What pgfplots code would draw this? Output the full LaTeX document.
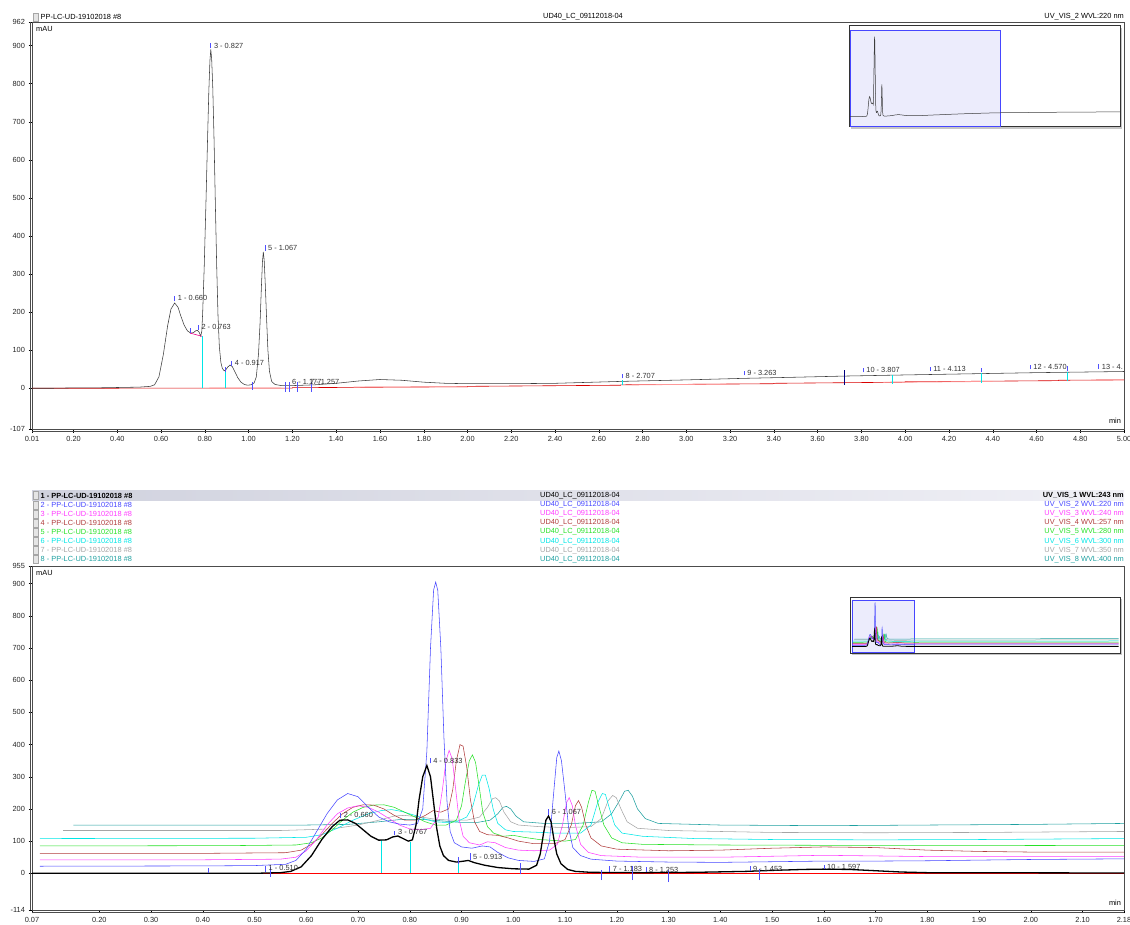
\documentclass[border=0pt]{standalone}
\usepackage{fontspec}
\setmainfont{Liberation Sans}
\usepackage{pgfplots}
\pgfplotsset{compat=1.18}
\usepackage{pgfplotstable}
\definecolor{cA}{RGB}{60,60,60}
\definecolor{c2}{RGB}{70,70,255}
\definecolor{c3}{RGB}{255,60,255}
\definecolor{c4}{RGB}{176,60,60}
\definecolor{c5}{RGB}{40,225,40}
\definecolor{c6}{RGB}{0,230,230}
\definecolor{c7}{RGB}{165,165,165}
\definecolor{c8}{RGB}{30,160,160}
\definecolor{tk}{RGB}{80,80,255}
\definecolor{bandL}{RGB}{208,210,222}
\definecolor{bandR}{RGB}{240,240,246}
\definecolor{boxf}{RGB}{236,236,252}
\newcommand\tf{\fontsize{7.4}{8}\selectfont}

\pgfplotstableread{
t v
0.01 0
0.10 0
0.20 1
0.30 1
0.40 2
0.50 3
0.55 5
0.57 9
0.59 30
0.61 88
0.63 165
0.645 208
0.662 224
0.677 213
0.69 190
0.705 166
0.72 151
0.735 145
0.748 146
0.758 151
0.766 152
0.774 147
0.781 137
0.786 150
0.790 200
0.797 320
0.805 490
0.812 650
0.818 780
0.823 860
0.827 890
0.831 865
0.836 790
0.842 650
0.848 480
0.854 320
0.860 190
0.866 110
0.873 68
0.880 52
0.888 46
0.895 48
0.905 56
0.915 61
0.925 57
0.935 46
0.950 28
0.965 16
0.980 10
0.995 8
1.010 9
1.025 14
1.035 30
1.045 90
1.052 170
1.058 262
1.063 332
1.067 358
1.071 336
1.076 272
1.082 182
1.088 100
1.095 45
1.105 18
1.120 10
1.150 7
1.200 7
1.300 9
1.400 13
1.500 19
1.600 23
1.700 21
1.800 16
1.900 13
2.000 12
2.200 12
2.400 13
2.700 18
3.000 22
3.260 26
3.500 29
3.720 32
4.000 35
4.300 38
4.600 41
5.000 44
6.000 47
7.000 50
8.000 52
8.950 54
}\topdata

\pgfplotstableread{
t v
0.07 0
0.50 0
0.55 2
0.57 6
0.59 20
0.61 55
0.63 105
0.65 145
0.665 165
0.68 166
0.695 155
0.71 135
0.725 115
0.74 103
0.755 104
0.767 113
0.777 116
0.787 108
0.797 100
0.805 104
0.812 150
0.818 230
0.825 300
0.833 335
0.840 300
0.846 220
0.852 140
0.858 85
0.865 55
0.875 40
0.890 35
0.905 38
0.913 40
0.925 33
0.945 25
0.970 18
1.000 14
1.030 13
1.045 25
1.052 60
1.058 120
1.063 165
1.068 178
1.073 160
1.078 110
1.084 60
1.092 30
1.105 12
1.120 6
1.150 3
1.250 2
1.350 3
1.450 6
1.500 9
1.560 12
1.600 13
1.650 12
1.700 8
1.750 4
1.800 2
2.180 1
9.100 1
}\bA

\pgfplotstableread{
t v
0.085 22
0.40 23
0.50 24
0.56 28
0.58 40
0.60 75
0.62 130
0.64 185
0.66 228
0.68 248
0.70 238
0.72 205
0.74 175
0.76 160
0.78 153
0.80 150
0.815 155
0.825 200
0.833 380
0.840 700
0.846 880
0.850 905
0.854 880
0.860 700
0.866 420
0.872 220
0.878 130
0.886 95
0.900 82
0.920 78
0.940 85
0.955 82
0.970 65
0.990 48
1.010 40
1.040 37
1.060 45
1.070 100
1.078 250
1.084 360
1.088 380
1.093 350
1.100 250
1.107 140
1.115 80
1.130 55
1.150 44
1.200 38
1.300 35
1.400 34
1.500 36
1.600 38
1.700 38
1.800 39
1.900 41
2.000 43
2.180 45
9.100 50
}\bB

\pgfplotstableread{
t v
0.085 42
0.40 42
0.55 44
0.58 50
0.60 70
0.62 105
0.64 150
0.66 185
0.68 203
0.70 210
0.72 205
0.74 190
0.76 170
0.78 150
0.80 138
0.82 135
0.84 140
0.855 175
0.863 260
0.870 350
0.876 382
0.882 355
0.888 270
0.895 170
0.903 115
0.915 95
0.935 88
0.950 98
0.965 95
0.985 80
1.010 72
1.040 70
1.070 72
1.085 90
1.095 150
1.103 220
1.108 235
1.114 210
1.120 150
1.130 90
1.145 65
1.170 55
1.250 50
1.400 50
1.500 53
1.600 56
1.700 54
1.800 52
1.900 52
2.000 52
2.180 52
9.100 55
}\bC

\pgfplotstableread{
t v
0.085 62
0.40 62
0.56 64
0.59 72
0.61 90
0.63 120
0.65 155
0.67 185
0.69 205
0.71 213
0.73 212
0.75 200
0.77 180
0.79 165
0.81 165
0.83 180
0.845 195
0.86 190
0.875 200
0.883 260
0.890 350
0.897 400
0.903 395
0.910 330
0.917 230
0.925 160
0.935 130
0.950 120
0.970 118
0.990 110
1.010 100
1.040 92
1.080 92
1.100 105
1.112 150
1.120 210
1.126 226
1.132 205
1.140 150
1.150 110
1.170 85
1.200 75
1.300 70
1.400 72
1.500 78
1.600 82
1.700 80
1.800 72
1.900 68
2.000 66
2.180 66
9.100 68
}\bD

\pgfplotstableread{
t v
0.085 85
0.45 86
0.58 88
0.61 95
0.63 110
0.65 135
0.67 165
0.69 190
0.71 205
0.73 212
0.75 213
0.77 205
0.79 190
0.81 175
0.83 160
0.85 150
0.87 150
0.890 165
0.900 210
0.908 290
0.915 350
0.921 368
0.927 345
0.934 270
0.941 190
0.950 145
0.962 125
0.980 115
1.000 118
1.020 112
1.050 105
1.100 100
1.120 105
1.135 150
1.145 220
1.152 258
1.158 255
1.165 210
1.175 150
1.190 110
1.210 95
1.250 90
1.400 88
1.600 87
1.800 87
2.180 86
9.100 90
}\bE

\pgfplotstableread{
t v
0.085 108
0.50 109
0.60 112
0.63 120
0.66 140
0.69 165
0.72 185
0.745 195
0.765 198
0.785 192
0.81 180
0.83 168
0.85 160
0.87 158
0.89 160
0.910 175
0.922 210
0.932 270
0.940 305
0.946 305
0.953 265
0.961 200
0.970 155
0.985 135
1.000 130
1.040 128
1.080 125
1.130 125
1.150 150
1.163 220
1.172 248
1.178 245
1.186 200
1.196 150
1.210 125
1.250 115
1.350 108
1.500 105
1.700 104
1.900 105
2.180 108
9.100 112
}\bF

\pgfplotstableread{
t v
0.13 133
0.55 133
0.65 138
0.70 150
0.74 165
0.77 178
0.79 180
0.82 175
0.85 168
0.88 165
0.91 165
0.935 175
0.950 205
0.960 232
0.966 235
0.973 225
0.982 190
0.995 160
1.010 150
1.050 145
1.100 142
1.150 145
1.170 170
1.183 225
1.192 242
1.199 235
1.208 200
1.220 160
1.240 140
1.300 133
1.500 127
1.700 126
1.900 127
2.180 130
9.100 134
}\bG

\pgfplotstableread{
t v
0.15 150
0.60 150
0.68 152
0.74 160
0.78 167
0.82 168
0.86 163
0.90 158
0.93 158
0.955 165
0.970 185
0.980 205
0.987 208
0.995 200
1.005 178
1.020 160
1.060 155
1.120 155
1.170 160
1.190 185
1.205 225
1.215 255
1.222 258
1.230 240
1.240 200
1.255 170
1.280 155
1.400 150
1.600 148
1.800 150
2.000 152
2.180 155
9.100 160
}\bH

\pgfplotsset{
  chrom/.style={
    scale only axis,
    axis line style={draw=gray!60!black, line width=0.5pt},
    tick style={black, line width=0.4pt},
    tick align=outside,
    major tick length=3.5pt,
    minor tick length=2pt,
    xtick pos=bottom, ytick pos=left,
    tick label style={font=\tf, text=black!85},
    /pgf/number format/assume math mode=true,
    xticklabel style={/pgf/number format/.cd, fixed, fixed zerofill, precision=2},
    yticklabel style={/pgf/number format/.cd, fixed, precision=0, 1000 sep={}},
    minor x tick num=3,
    minor y tick num=3,
    unbounded coords=jump,
  },
  inset/.style={
    scale only axis,
    axis line style={draw=gray!40!black, line width=0.8pt},
    xtick=\empty, ytick=\empty,
    axis background/.style={fill=white},
  },
}
\tikzset{pk/.style={anchor=west, font=\tf, text=black!80, inner sep=0pt}}

\begin{document}
\begin{tikzpicture}
\useasboundingbox (0pt,0pt) rectangle (1130pt,924pt);

% ---------- top header ----------
\draw[gray!70, fill=gray!20] (33pt,903pt) rectangle (38pt,911pt);
\node[anchor=west, font=\tf, inner sep=0pt] at (40.5pt,907pt) {PP-LC-UD-19102018 \#8};
\node[font=\tf, inner sep=0pt] at (583pt,907pt) {UD40\_LC\_09112018-04};
\node[anchor=east, font=\tf, inner sep=0pt] at (1124pt,907pt) {UV\_VIS\_2 WVL:220 nm};

% ---------- top axis ----------
\begin{axis}[chrom, name=top, at={(32pt,902pt)}, anchor=north west,
  width=1092pt, height=407pt,
  xmin=0.01, xmax=5.0, ymin=-107, ymax=962,
  xtick={0.01,0.2,0.4,0.6,0.8,1.0,1.2,1.4,1.6,1.8,2.0,2.2,2.4,2.6,2.8,3.0,3.2,3.4,3.6,3.8,4.0,4.2,4.4,4.6,4.8,5.0},
  ytick={-107,0,100,200,300,400,500,600,700,800,900,962},
]
\addplot[red!85!black, line width=0.6pt] coordinates {(0.01,0) (1.2,0.5) (1.2,1.5) (2.0,4) (2.0,5) (2.7,8) (2.7,9) (3.4,12) (3.4,13) (4.0,16) (4.0,17) (4.7,20) (4.7,21) (5.0,22)};
\addplot[red!40, line width=0.8pt] coordinates {(0.82,0.3) (1.15,0.6) (1.15,nan) (1.48,3) (2.0,4) (2.0,nan) (2.75,9) (3.2,11) (3.2,nan) (3.9,15.5) (4.4,18) (4.4,nan) (4.85,21.5) (5.0,22)};
\addplot[cA, line width=0.55pt] table[x=t,y=v] {\topdata};
\addplot[magenta, line width=0.6pt] coordinates {(0.732,145) (0.79,136)};
\addplot[c6, line width=0.6pt] coordinates {(0.79,0) (0.79,136) (0.79,nan) (0.895,0) (0.895,46) (0.895,nan) (2.708,8) (2.708,22) (2.708,nan) (3.94,12) (3.94,35) (3.94,nan) (4.35,15) (4.35,40) (4.35,nan) (4.74,18) (4.74,44)};
\addplot[tk, line width=0.6pt] coordinates {
 (0.662,228) (0.662,242) (0.662,nan)
 (0.732,145) (0.732,158) (0.732,nan)
 (0.770,153) (0.770,166) (0.770,nan)
 (0.827,893) (0.827,907) (0.827,nan)
 (0.895,44) (0.895,57) (0.895,nan)
 (0.922,59) (0.922,72) (0.922,nan)
 (1.017,-4) (1.017,17) (1.017,nan)
 (1.074,361) (1.074,375) (1.074,nan)
 (1.166,-9) (1.166,17) (1.166,nan)
 (1.186,-9) (1.186,17) (1.186,nan)
 (1.224,-9) (1.224,17) (1.224,nan)
 (1.287,-9) (1.287,17) (1.287,nan)
 (2.708,26) (2.708,38) (2.708,nan)
 (3.263,34) (3.263,46) (3.263,nan)
 (3.807,42) (3.807,54) (3.807,nan)
 (4.113,45) (4.113,57) (4.113,nan)
 (4.35,42) (4.35,54) (4.35,nan)
 (4.570,50) (4.570,62) (4.570,nan)
 (4.74,46) (4.74,58) (4.74,nan)
 (4.884,51) (4.884,63)};
\addplot[blue!50!black, line width=0.6pt] coordinates {(3.72,9) (3.72,49)};
\node[pk] at (axis cs:0.676,236) {1 - 0.660};
\node[pk] at (axis cs:0.784,160) {2 - 0.763};
\node[pk] at (axis cs:0.841,900) {3 - 0.827};
\node[pk] at (axis cs:0.936,66) {4 - 0.917};
\node[pk] at (axis cs:1.088,368) {5 - 1.067};
\node[pk] at (axis cs:1.198,17) {6 - 1.177};
\node[pk] at (axis cs:1.280,17) {7 - 1.257};
\node[pk] at (axis cs:2.722,32) {8 - 2.707};
\node[pk] at (axis cs:3.278,40) {9 - 3.263};
\node[pk] at (axis cs:3.822,48) {10 - 3.807};
\node[pk] at (axis cs:4.128,51) {11 - 4.113};
\node[pk] at (axis cs:4.585,56) {12 - 4.570};
\node[pk] at (axis cs:4.898,57) {13 - 4.};
\end{axis}
\draw[gray!60!black, line width=0.5pt] ([xshift=-2pt]top.south west) -- ([xshift=-2pt]top.north west);
\draw[gray!60!black, line width=0.5pt] ([yshift=-2pt]top.south west) -- ([yshift=-2pt]top.south east);
\node[anchor=west, font=\tf, inner sep=0pt] at (36pt,894.7pt) {mAU};
\node[font=\tf, inner sep=0pt] at (1115pt,503pt) {min};

% ---------- top inset ----------
\fill[gray!45] (851pt,795.3pt) rectangle (1122pt,896.3pt);
\begin{axis}[inset, at={(849pt,898.3pt)}, anchor=north west, width=271pt, height=101pt,
  xmin=-0.02, xmax=8.95, ymin=-111, ymax=1012]
\draw[c2, fill=boxf, line width=0.6pt] (axis cs:0.01,-107) rectangle (axis cs:5.0,962);
\addplot[cA, line width=0.5pt] table[x=t,y=v] {\topdata};
\end{axis}

% ---------- bottom header ----------
\shade[left color=bandL, right color=bandR] (32pt,423pt) rectangle (1124pt,433pt);
\foreach \i/\col/\txt/\wv in {0/black/1/UV\_VIS\_1 WVL:243 nm, 1/c2/2/UV\_VIS\_2 WVL:220 nm, 2/c3/3/UV\_VIS\_3 WVL:240 nm, 3/c4/4/UV\_VIS\_4 WVL:257 nm, 4/c5/5/UV\_VIS\_5 WVL:280 nm, 5/c6/6/UV\_VIS\_6 WVL:300 nm, 6/c7/7/UV\_VIS\_7 WVL:350 nm, 7/c8/8/UV\_VIS\_8 WVL:400 nm}{
  \pgfmathsetmacro\yy{428.3-9.1*\i}
  \draw[gray!70, fill=gray!20] (33pt,\yy pt-4pt) rectangle (38pt,\yy pt+4pt);
  \ifnum\i=0
    \node[anchor=west, font=\tf\bfseries, text=\col, inner sep=0pt] at (40.5pt,\yy pt) {\txt{} - PP-LC-UD-19102018 \#8};
    \node[font=\tf, text=\col, inner sep=0pt] at (580pt,\yy pt) {UD40\_LC\_09112018-04};
    \node[anchor=east, font=\tf\bfseries, text=\col, inner sep=0pt] at (1124pt,\yy pt) {\wv};
  \else
    \node[anchor=west, font=\tf, text=\col, inner sep=0pt] at (40.5pt,\yy pt) {\txt{} - PP-LC-UD-19102018 \#8};
    \node[font=\tf, text=\col, inner sep=0pt] at (580pt,\yy pt) {UD40\_LC\_09112018-04};
    \node[anchor=east, font=\tf, text=\col, inner sep=0pt] at (1124pt,\yy pt) {\wv};
  \fi
}

% ---------- bottom axis ----------
\begin{axis}[chrom, name=bot, at={(32pt,358pt)}, anchor=north west,
  width=1092pt, height=344pt,
  xmin=0.07, xmax=2.18, ymin=-114, ymax=955,
  xtick={0.07,0.2,0.3,0.4,0.5,0.6,0.7,0.8,0.9,1.0,1.1,1.2,1.3,1.4,1.5,1.6,1.7,1.8,1.9,2.0,2.1,2.18},
  ytick={-114,0,100,200,300,400,500,600,700,800,900,955},
  minor x tick num=4,
]
\addplot[red, line width=0.6pt] coordinates {(0.41,0) (2.18,0)};
\addplot[c8, line width=0.55pt] table[x=t,y=v] {\bH};
\addplot[c7, line width=0.55pt] table[x=t,y=v] {\bG};
\addplot[c6, line width=0.55pt] table[x=t,y=v] {\bF};
\addplot[c5, line width=0.55pt] table[x=t,y=v] {\bE};
\addplot[c4, line width=0.55pt] table[x=t,y=v] {\bD};
\addplot[c3, line width=0.55pt] table[x=t,y=v] {\bC};
\addplot[c2, line width=0.55pt] table[x=t,y=v] {\bB};
\addplot[c6, line width=0.6pt] coordinates {(0.744,0) (0.744,103) (0.744,nan) (0.801,0) (0.801,98) (0.801,nan) (0.893,0) (0.893,40)};
\addplot[black, line width=1.3pt] table[x=t,y=v] {\bA};
\addplot[tk, line width=0.6pt] coordinates {
 (0.41,0) (0.41,18) (0.41,nan)
 (0.521,5) (0.521,22) (0.521,nan)
 (0.531,-11) (0.531,19) (0.531,nan)
 (0.666,172) (0.666,186) (0.666,nan)
 (0.771,118) (0.771,132) (0.771,nan)
 (0.839,342) (0.839,358) (0.839,nan)
 (0.893,30) (0.893,50) (0.893,nan)
 (0.916,41) (0.916,62) (0.916,nan)
 (1.013,-3) (1.013,31) (1.013,nan)
 (1.068,180) (1.068,200) (1.068,nan)
 (1.170,-21) (1.170,11) (1.170,nan)
 (1.186,5) (1.186,22) (1.186,nan)
 (1.229,-21) (1.229,22) (1.229,nan)
 (1.256,5) (1.256,20) (1.256,nan)
 (1.300,-27) (1.300,11) (1.300,nan)
 (1.457,8) (1.457,22) (1.457,nan)
 (1.476,-21) (1.476,14) (1.476,nan)
 (1.600,12) (1.600,26)};
\node[pk] at (axis cs:0.527,16) {1 - 0.510};
\node[pk] at (axis cs:0.672,182) {2 - 0.660};
\node[pk] at (axis cs:0.777,128) {3 - 0.767};
\node[pk] at (axis cs:0.845,350) {4 - 0.833};
\node[pk] at (axis cs:0.922,52) {5 - 0.913};
\node[pk] at (axis cs:1.074,192) {6 - 1.067};
\node[pk] at (axis cs:1.192,13) {7 - 1.183};
\node[pk] at (axis cs:1.262,11) {8 - 1.253};
\node[pk] at (axis cs:1.463,15) {9 - 1.453};
\node[pk] at (axis cs:1.606,20) {10 - 1.597};
\end{axis}
\draw[gray!60!black, line width=0.5pt] ([xshift=-2pt]bot.south west) -- ([xshift=-2pt]bot.north west);
\draw[gray!60!black, line width=0.5pt] ([yshift=-2pt]bot.south west) -- ([yshift=-2pt]bot.south east);
\node[anchor=west, font=\tf, inner sep=0pt] at (36pt,351.5pt) {mAU};
\node[font=\tf, inner sep=0pt] at (1115pt,21pt) {min};

% ---------- bottom inset ----------
\fill[gray!45] (852pt,269pt) rectangle (1122pt,325pt);
\begin{axis}[inset, at={(850pt,327pt)}, anchor=north west, width=270pt, height=56pt,
  xmin=0.0, xmax=9.15, ymin=-135, ymax=1017]
\draw[c2, fill=boxf, line width=0.6pt] (axis cs:0.07,-114) rectangle (axis cs:2.18,955);
\addplot[c8, line width=0.5pt] table[x=t,y=v] {\bH};
\addplot[c7, line width=0.5pt] table[x=t,y=v] {\bG};
\addplot[c6, line width=0.5pt] table[x=t,y=v] {\bF};
\addplot[c5, line width=0.5pt] table[x=t,y=v] {\bE};
\addplot[c4, line width=0.5pt] table[x=t,y=v] {\bD};
\addplot[c3, line width=0.5pt] table[x=t,y=v] {\bC};
\addplot[c2, line width=0.5pt] table[x=t,y=v] {\bB};
\addplot[black, line width=0.8pt] table[x=t,y=v] {\bA};
\end{axis}
\end{tikzpicture}
\end{document}
